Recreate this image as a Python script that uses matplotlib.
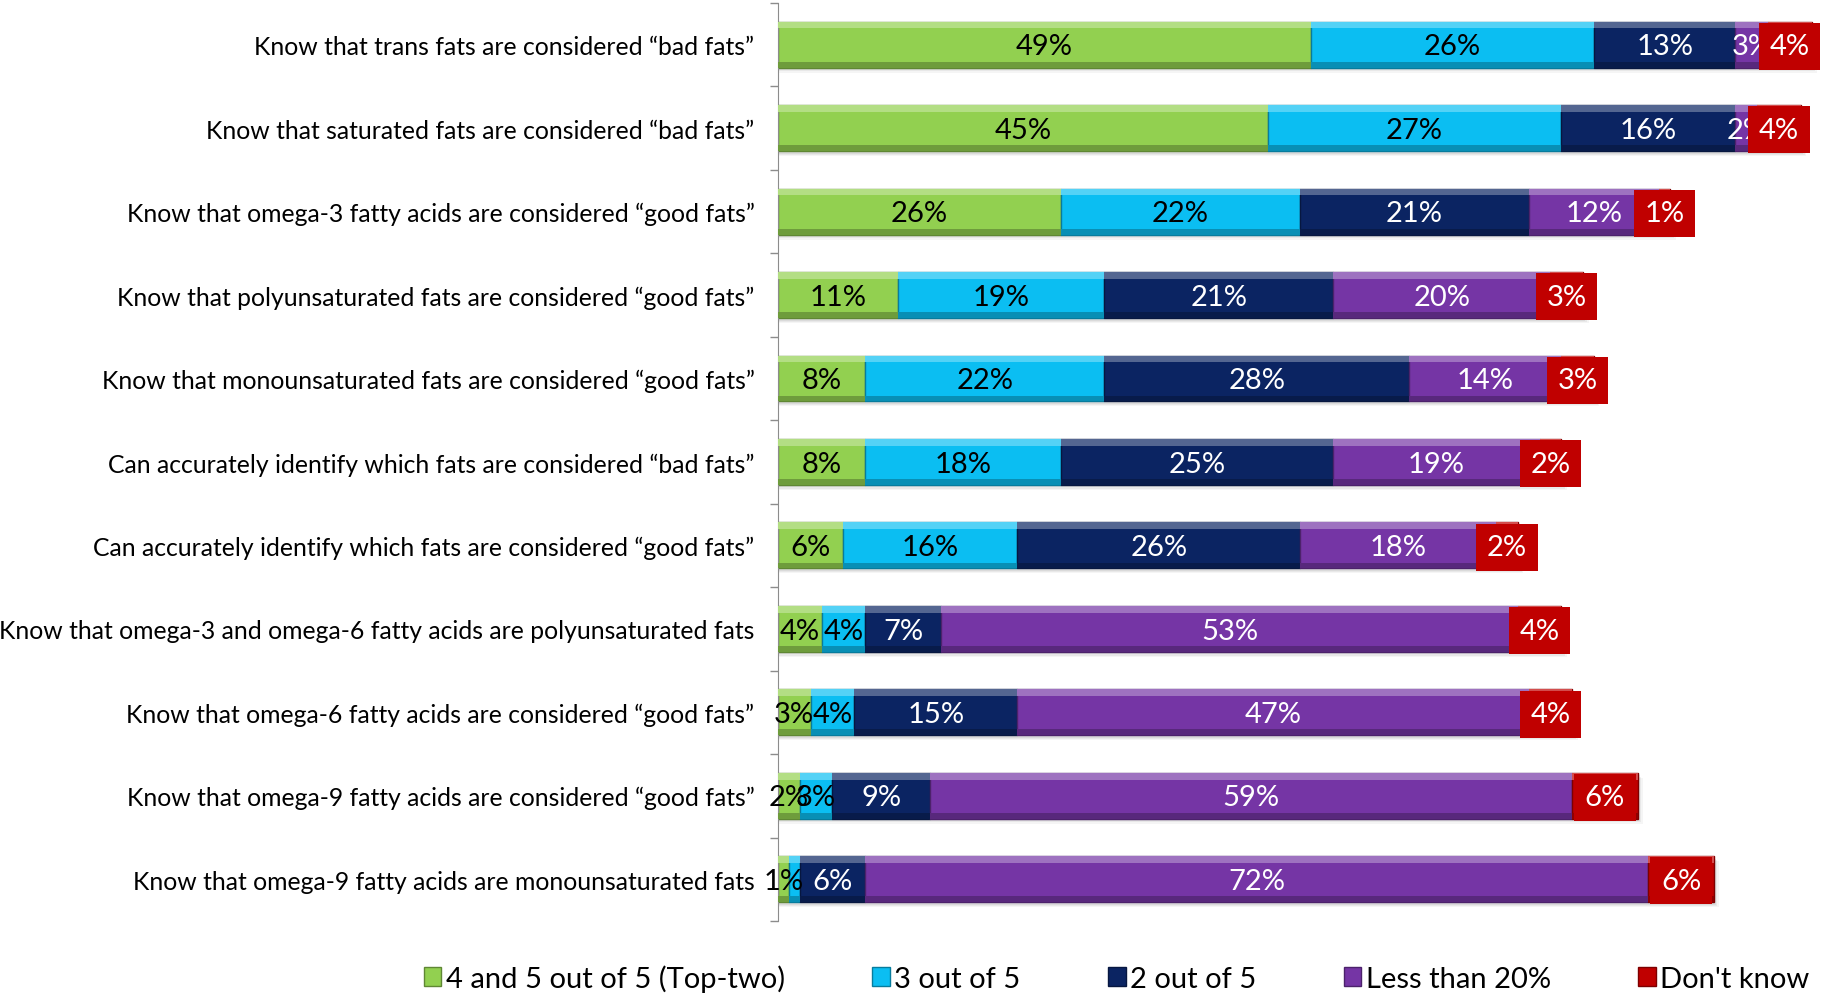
import numpy as np
import matplotlib.pyplot as plt
from matplotlib.patches import Patch
from matplotlib.colors import to_rgb

plt.rcParams['font.family'] = ['Lato', 'DejaVu Sans']

categories = [
    'Know that trans fats are considered \u201cbad fats\u201d',
    'Know that saturated fats are considered \u201cbad fats\u201d',
    'Know that omega-3 fatty acids are considered \u201cgood fats\u201d',
    'Know that polyunsaturated fats are considered \u201cgood fats\u201d',
    'Know that monounsaturated fats are considered \u201cgood fats\u201d',
    'Can accurately identify which fats are considered \u201cbad fats\u201d',
    'Can accurately identify which fats are considered \u201cgood fats\u201d',
    'Know that omega-3 and omega-6 fatty acids are polyunsaturated fats',
    'Know that omega-6 fatty acids are considered \u201cgood fats\u201d',
    'Know that omega-9 fatty acids are considered \u201cgood fats\u201d',
    'Know that omega-9 fatty acids are monounsaturated fats',
]
top_two = [49, 45, 26, 11, 8, 8, 6, 4, 3, 2, 1]
three_of_five = [26, 27, 22, 19, 22, 18, 16, 4, 4, 3, 1]
two_of_five = [13, 16, 21, 21, 28, 25, 26, 7, 15, 9, 6]
less_than_20 = [3, 2, 12, 20, 14, 19, 18, 53, 47, 59, 72]
dont_know = [4, 4, 1, 3, 3, 2, 2, 4, 4, 6, 6]

series = [
    ('4 and 5 out of 5 (Top-two)', top_two, '#92D050', 'black'),
    ('3 out of 5', three_of_five, '#0BBEF2', 'black'),
    ('2 out of 5', two_of_five, '#0B2462', 'white'),
    ('Less than 20%', less_than_20, '#7535A5', 'white'),
    ("Don't know", dont_know, '#C00000', 'white'),
]


def shade(c, f):
    r = np.array(to_rgb(c))
    if f > 0:
        return tuple(r + (1 - r) * f)
    return tuple(r * (1 + f))


fig = plt.figure(figsize=(18.35, 9.95), dpi=100)
ax = fig.add_axes([778 / 1835, 0.0734, 1 - 778 / 1835, 0.9226])

y = np.arange(len(categories))
h = 0.55
left = np.zeros(len(categories))

# soft drop shadow under each whole bar
totals = np.sum([s[1] for s in series], axis=0)
for k, a in enumerate([0.06, 0.05, 0.04]):
    ax.barh(y + 0.03 + 0.015 * k, totals + 0.2 + 0.15 * k, height=h, color='black',
            alpha=a, zorder=1, linewidth=0)

for si, (name, vals, col, tcol) in enumerate(series):
    vals = np.array(vals, dtype=float)
    ax.barh(y, vals, left=left, height=h, color=col,
            edgecolor=shade(col, -0.35), linewidth=1, zorder=2)
    # bevel: light top strip, dark bottom strip
    ax.barh(y - h / 2 + 0.04, vals, left=left, height=0.08,
            color=shade(col, 0.3), linewidth=0, zorder=3)
    ax.barh(y + h / 2 - 0.035, vals, left=left, height=0.07,
            color=shade(col, -0.25), linewidth=0, zorder=3)
    for i, v in enumerate(vals):
        if si == 1 and i == len(categories) - 1:
            continue
        cx = left[i] + v / 2
        if si == 4:
            ax.text(cx, y[i] + 0.02, f'{v:.0f}%', ha='center', va='center', fontsize=21,
                    color=tcol, zorder=6,
                    bbox=dict(boxstyle='square,pad=0.36', fc=col, ec='none'))
        else:
            ax.text(cx, y[i] + 0.02, f'{v:.0f}%', ha='center', va='center', fontsize=21,
                    color=tcol, zorder=5)
    left += vals

ax.set_xlim(0, (1835 - 778) / 10.88)
ax.set_ylim(len(categories) - 0.5, -0.5)
ax.set_yticks(y)
ax.set_yticklabels(categories, fontsize=17.8)
ax.set_yticks(np.arange(len(categories) + 1) - 0.5, minor=True)
ax.tick_params(axis='y', which='major', length=0, pad=17)
ax.tick_params(axis='y', which='minor', length=6, color='#8c8c8c', width=1)
ax.set_xticks([])
for s in ['top', 'right', 'bottom']:
    ax.spines[s].set_visible(False)
ax.spines['left'].set_color('#8c8c8c')

handles = [Patch(facecolor=c, edgecolor=shade(c, -0.35), label=n) for n, _, c, _ in series]
fig.legend(handles=handles, loc='lower center', bbox_to_anchor=(0.6085, -0.024), ncol=5,
           frameon=False, fontsize=21, handlelength=0.6, handleheight=0.6,
           handletextpad=0.15, columnspacing=3.0)

fig.savefig('out.png', dpi=100)
